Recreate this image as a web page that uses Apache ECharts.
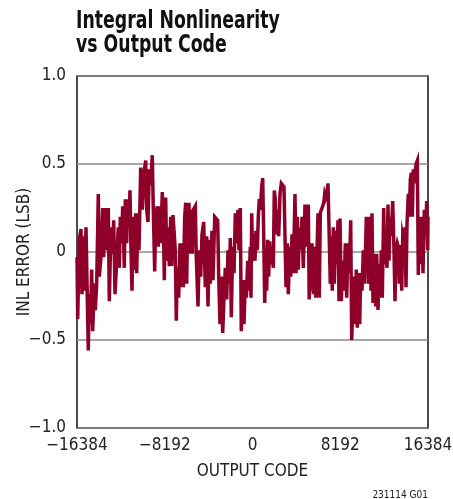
<!DOCTYPE html>
<html>
<head>
<meta charset="utf-8">
<script src="https://cdn.jsdelivr.net/npm/echarts@6/dist/echarts.min.js"></script>
<style>
  html, body { margin: 0; padding: 0; background: #fff; }
  #chart { width: 453px; height: 499px; }
</style>
</head>
<body>
<div id="chart"></div>
<script>
// --- 数据：输出码 (x) 与 INL 误差 (LSB) ---
const codes = [
  -16384, -16319, -16170, -16011, -15918, -15796, -15703, -15544, -15451, -15330,
  -15236, -15143, -15012, -14919, -14770, -14676, -14546, -14396, -14303, -14144,
  -13985, -13892, -13771, -13612, -13462, -13369, -13210, -13052, -12958, -12837,
  -12678, -12529, -12436, -12342, -12211, -12118, -11969, -11875, -11745, -11651,
  -11558, -11437, -11343, -11250, -11128, -11035,
  -10904, -10811, -10690, -10596, -10438, -10288, -10129, -9971, -9877, -9756,
  -9635, -9504, -9355, -9261, -9131, -9037, -8888, -8794, -8664, -8570,
  -8421, -8328, -8234, -8104, -8010, -7861, -7767, -7637, -7543, -7422,
  -7301, -7207, -7114, -7021, -6890, -6769, -6675, -6554, -6460, -6330,
  -6236, -6143, -6087, -5928, -5835, -5714, -5620, -5527,
  -5340, -5247, -5088, -4967, -4836, -4715, -4556, -4407, -4276, -4155,
  -4033, -3940, -3781, -3688, -3529, -3408, -3249, -3156, -3034, -2913,
  -2782, -2661, -2539, -2409, -2287, -2166, -2073, -1979, -1849, -1727,
  -1606, -1475, -1354, -1260, -1139, -1046, -915, -794, -672, -579,
  -448, -355, -205, -140, -75,
  19, 140, 233, 327, 448, 541, 635, 728, 859, 952,
  1046, 1139, 1232, 1326, 1419, 1512, 1606, 1699, 1820, 1942,
  2035, 2129, 2222, 2353, 2446, 2567, 2689, 2819, 2941, 3034,
  3128, 3249, 3342, 3473, 3566, 3688, 3809, 3968, 4061, 4182,
  4276, 4369, 4500, 4621, 4743, 4901, 5060, 5209, 5293,
  5340, 5433, 5555, 5676, 5770, 5900, 6022, 6115, 6236, 6330,
  6423, 6554, 6647, 6740, 6834, 6927, 7049, 7207, 7263, 7357,
  7450, 7543, 7637, 7767, 7861, 7982, 8076, 8169, 8290, 8421,
  8542, 8664, 8794, 8916, 9037, 9168, 9261, 9355, 9476, 9569,
  9691, 9784, 9915, 10008, 10101, 10223, 10344, 10475, 10624, 10690,
  10755, 10848, 10970, 11063, 11157, 11250, 11371, 11502, 11595, 11717,
  11810, 11903, 12025, 12118, 12248, 12342, 12435, 12557, 12650, 12744,
  12837, 12958, 13089, 13210, 13304, 13397, 13518, 13612, 13705, 13836,
  13929, 14023, 14144, 14237, 14331, 14424, 14546, 14639, 14732, 14826,
  14919, 15012, 15143, 15264, 15386, 15479, 15572, 15703, 15824, 15918,
  16039, 16170, 16263, 16356, 16384
];

const inlError = [
  -0.03, -0.38, 0.07, 0.13, -0.24, 0.09, -0.22, 0.14, 0.15, -0.56,
  -0.24, -0.41, -0.10, -0.45, -0.18, -0.33, -0.18, 0.33, -0.14, -0.03,
  0.25, -0.03, 0.25, 0.01, 0.25, -0.28, 0.14, -0.01, 0.18, -0.24,
  -0.05, 0.14, -0.09, 0.20, 0.05, 0.26, -0.09, 0.30, 0.05, 0.30,
  0.14, 0.35, 0.01, -0.22, 0.20, -0.10,
  0.22, -0.12, 0.22, 0.01, 0.48, 0.24, 0.45, 0.52, 0.24, 0.17,
  0.47, 0.38, 0.55, 0.24, -0.11, 0.20, 0.26, 0.03, 0.26, 0.05,
  0.34, 0.20, -0.16, 0.31, -0.05, 0.14, -0.08, 0.20, -0.08, 0.21,
  0.22, 0.01, -0.39, -0.09, -0.26, 0.05, -0.20, 0.05, -0.20, 0.20,
  0.28, -0.18, 0.05, 0.28, -0.01, 0.24, -0.01, 0.24,
  0.26, -0.03, -0.31, 0.01, -0.14, 0.10, 0.17, -0.20, 0.09, -0.31,
  0.07, -0.18, 0.12, -0.16, 0.20, 0.21, 0.18, -0.14, -0.41, -0.14,
  -0.46, -0.26, -0.09, -0.27, 0.01, -0.18, 0.08, -0.37, 0.03, -0.12,
  0.22, 0.05, 0.24, 0.01, 0.25, -0.45, -0.16, -0.41, -0.16, -0.26,
  -0.05, -0.22, 0.03, -0.26, 0.22,
  -0.05, 0.10, -0.05, 0.12, 0.01, 0.20, 0.30, 0.24, 0.37, 0.42,
  0.10, -0.29, -0.05, -0.22, 0.07, -0.14, 0.06, -0.07, 0.03, -0.09,
  0.35, 0.30, 0.10, 0.24, 0.09, 0.33, 0.39, 0.38, 0.37, 0.09,
  -0.20, 0.05, -0.24, 0.03, -0.14, 0.10, -0.12, 0.33, -0.12, 0.20,
  -0.10, 0.14, 0.01, 0.20, -0.09, 0.27, 0.03, 0.27, -0.27,
  0.05, -0.22, 0.05, -0.24, 0.03, -0.26, 0.01, 0.22, -0.26, 0.22,
  0.24, 0.26, 0.28, 0.33, 0.31, 0.33, 0.39, 0.39, -0.18, 0.09,
  -0.22, 0.14, -0.18, 0.12, -0.07, 0.18, -0.28, 0.19, -0.28, -0.05,
  -0.22, 0.05, -0.26, 0.05, -0.12, 0.18, -0.50, -0.33, -0.14, -0.41,
  -0.10, -0.43, -0.12, -0.41, -0.12, -0.22, 0.01, -0.18, 0.20, -0.10,
  0.20, -0.18, 0.20, -0.22, 0.22, -0.29, -0.01, -0.31, -0.01, -0.33,
  -0.07, -0.26, 0.01, -0.26, 0.25, -0.07, 0.10, -0.09, 0.27, -0.05,
  0.20, 0.09, 0.29, 0.01, -0.28, 0.01, 0.05, 0.03, -0.18, 0.04,
  -0.22, 0.09, 0.05, 0.14, -0.20, 0.16, 0.33, 0.20, 0.41, 0.45,
  0.20, 0.47, 0.39, 0.50, 0.52, -0.13, 0.20, -0.07, 0.20, -0.12,
  0.24, 0.10, 0.29, 0.01, 0.20
];

// 轴刻度
const xTicks = [-16384, -8192, 0, 8192, 16384];
const yTickLabels = { '1': '1.0', '0.5': '0.5', '0': '0', '-0.5': '\u22120.5', '-1': '\u22121.0' };

const titleLines = ['Integral Nonlinearity', 'vs Output Code'];
const noteText = '231114 G01';

const FONT = '"DejaVu Sans Condensed", "Liberation Sans Narrow", Arial, sans-serif';
const COLORS = {
  line: '#8E0029',
  grid: '#8a8a8a',
  frame: '#111',
  text: '#222'
};

const chart = echarts.init(document.getElementById('chart'));

const option = {
  backgroundColor: '#fff',
  animation: false,
  textStyle: { fontFamily: FONT },
  // 标题：压窄字形，接近原图的窄体粗字
  graphic: [
    {
      type: 'text',
      x: 76,
      y: 9,
      scaleX: 0.77,
      style: {
        text: titleLines.join('\n'),
        font: 'bold 25px "DejaVu Sans Condensed", sans-serif',
        fill: '#111',
        lineHeight: 24,
        verticalAlign: 'top',
        textVerticalAlign: 'top'
      }
    }
  ],
  title: {
    text: noteText,
    right: 20,
    top: 485,
    textStyle: { fontFamily: FONT, fontWeight: 'normal', fontSize: 10, color: '#222' }
  },
  grid: {
    left: 77, right: 25, top: 76, bottom: 71,
    outerBoundsMode: 'none',   // v6：不让标签挤压网格
    containLabel: false,
    show: true,
    borderColor: COLORS.frame,
    borderWidth: 1.5,
    backgroundColor: 'transparent'
  },
  xAxis: {
    type: 'value',
    min: -16384,
    max: 16384,
    interval: 8192,
    name: 'OUTPUT CODE',
    nameLocation: 'middle',
    nameGap: 35,
    nameMoveOverlap: false,
    nameTextStyle: { fontFamily: FONT, fontSize: 17, color: COLORS.text },
    axisLine: { show: false },
    axisTick: { show: false },
    splitLine: { show: false },
    axisLabel: {
      fontFamily: FONT,
      fontSize: 17,
      color: COLORS.text,
      margin: 9,
      formatter: (v) => xTicks.includes(v) ? String(v).replace('-', '\u2212') : ''
    }
  },
  yAxis: {
    type: 'value',
    min: -1,
    max: 1,
    interval: 0.5,
    name: 'INL ERROR (LSB)',
    nameLocation: 'middle',
    nameGap: 44,
    nameMoveOverlap: false,
    nameTextStyle: { fontFamily: FONT, fontSize: 17, color: COLORS.text },
    axisLine: { show: false },
    axisTick: { show: false },
    splitLine: { show: true, lineStyle: { color: COLORS.grid, width: 1.5 } },
    axisLabel: {
      fontFamily: FONT,
      fontSize: 17,
      color: COLORS.text,
      margin: 11,
      formatter: (v) => yTickLabels[String(v)] ?? ''
    }
  },
  series: [
    {
      name: 'INL',
      type: 'line',
      data: codes.map((c, i) => [c, inlError[i]]),
      showSymbol: false,
      smooth: false,
      clip: true,
      lineStyle: { color: COLORS.line, width: 3.5, join: 'miter' }
    }
  ]
};

chart.setOption(option);
</script>
</body>
</html>
